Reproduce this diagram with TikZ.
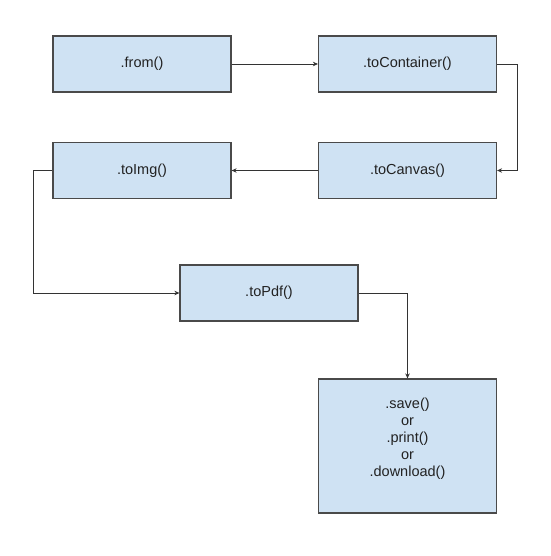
\documentclass[tikz,border=0pt]{standalone}
\usepackage{fontspec}
\setmainfont{Liberation Sans}
\usetikzlibrary{arrows.meta}
\definecolor{boxfill}{HTML}{CFE2F3}
\definecolor{boxline}{HTML}{4A4A4A}
\definecolor{conline}{HTML}{333333}
\definecolor{txt}{HTML}{222222}
\begin{document}
\begin{tikzpicture}[x=1pt,y=-1pt,
  fbox/.style={draw=boxline,fill=boxfill,line width=1.2pt,inner sep=0pt,
    minimum width=178pt,minimum height=56pt,text=txt,align=center,
    font=\fontsize{14.5pt}{17pt}\selectfont},
  conn/.style={draw=conline,line width=0.9pt,-{Stealth[length=5pt,width=4.5pt]}}]
\useasboundingbox (0,0) rectangle (550,556);
\fill[white] (0,0) rectangle (550,556);
\node[fbox] (from) at (142,64) {.from()};
\node[fbox] (cont) at (407.5,64) {.toContainer()};
\node[fbox] (canv) at (407.5,170.5) {.toCanvas()};
\node[fbox] (img) at (142,170.5) {.toImg()};
\node[fbox] (pdf) at (269,293) {.toPdf()};
\node[fbox,minimum height=134pt] (save) at (407.5,446)
  {\begin{tabular}[b]{@{}c@{}}.save()\\or\\.print()\\or\\.download()\end{tabular}\rule[-18pt]{0pt}{1pt}};
\coordinate (c1) at (517,64);
\coordinate (c2) at (517,170.5);
\coordinate (c3) at (33,170.5);
\coordinate (c4) at (33,293);
\coordinate (c5) at (407.5,293);
\draw[conn] (from.east) -- (cont.west);
\draw[conn] (cont.east) -- (c1) -- (c2) -- (canv.east);
\draw[conn] (canv.west) -- (img.east);
\draw[conn] (img.west) -- (c3) -- (c4) -- (pdf.west);
\draw[conn] (pdf.east) -- (c5) -- (save.north);
\end{tikzpicture}
\end{document}
